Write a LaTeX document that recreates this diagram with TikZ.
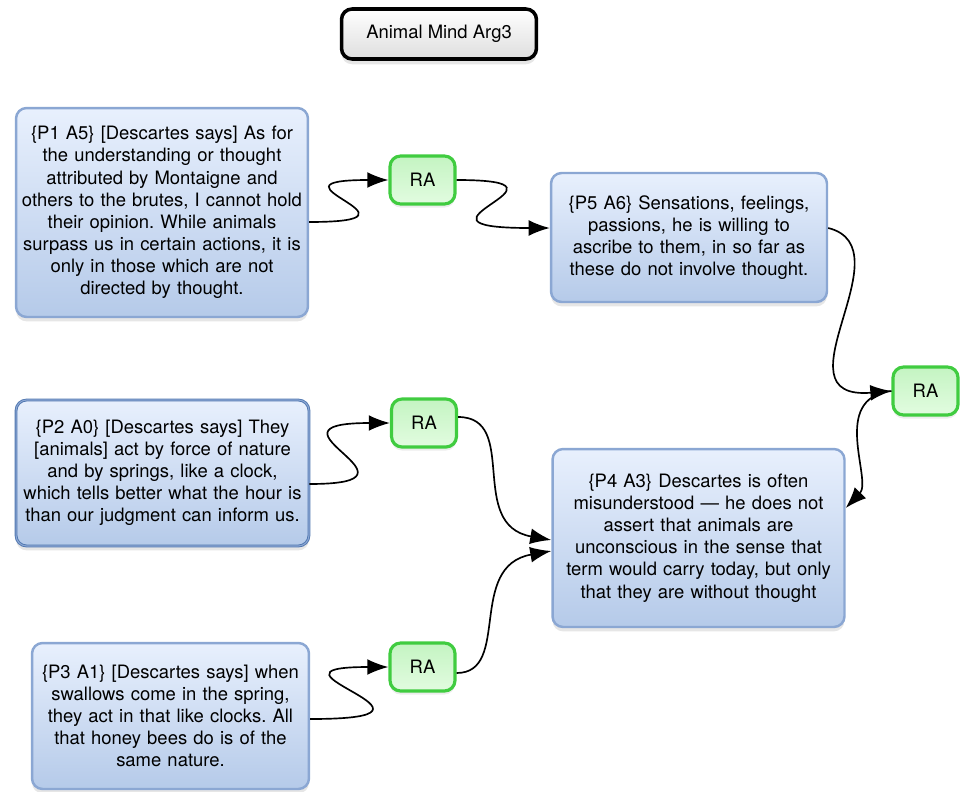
\documentclass[tikz,border=0pt]{standalone}
\usepackage{fontspec}
\setmainfont{TeX Gyre Heros}
\usetikzlibrary{arrows.meta,shadows}
\frenchspacing
\definecolor{boxline}{RGB}{139,167,211}
\definecolor{boxdark}{RGB}{79,118,176}
\definecolor{boxtop}{RGB}{232,240,253}
\definecolor{boxbot}{RGB}{181,202,233}
\definecolor{raline}{RGB}{64,204,64}
\definecolor{ratop}{RGB}{196,244,194}
\definecolor{rabot}{RGB}{226,252,224}
\definecolor{titlebot}{RGB}{222,222,222}
\tikzset{
 prem/.style={draw=boxline,line width=1.4pt,rounded corners=6pt,top color=boxtop,bottom color=boxbot,align=center,inner sep=0pt,
  drop shadow={shadow xshift=0pt,shadow yshift=-2.5pt,opacity=0.2}},
 ra/.style={draw=raline,line width=1.8pt,rounded corners=6pt,top color=ratop,bottom color=rabot,minimum width=1.3cm,minimum height=0.96cm,
  drop shadow={shadow xshift=0pt,shadow yshift=-2pt,opacity=0.15}},
 titlebox/.style={draw=black,line width=2pt,rounded corners=6pt,top color=white,bottom color=titlebot,minimum width=3.9cm,minimum height=1cm,
  drop shadow={shadow xshift=0pt,shadow yshift=-3pt,opacity=0.2}},
 link/.style={-{Latex[length=12pt,width=9pt]},line width=0.95pt}
}
\begin{document}
\begin{tikzpicture}[x=0.02cm,y=-0.02cm,font=\fontsize{10.5}{12.6}\selectfont]
 \useasboundingbox (0,0) rectangle (963,791);
 \node[titlebox] (title) at (439,34) {Animal Mind Arg3};

 \node[prem,minimum width=5.84cm,minimum height=4.18cm,text width=5.8cm] (p1) at (162,212.5) {\{P1 A5\} [Descartes says] As for\\the understanding or thought\\attributed by Montaigne and\\others to the brutes, I cannot hold\\their opinion. While animals\\surpass us in certain actions, it is\\only in those which are not\\directed by thought.};
 \node[prem,minimum width=5.52cm,minimum height=2.58cm,text width=5.5cm] (p5) at (689,237.5) {\{P5 A6\} Sensations, feelings,\\passions, he is willing to\\ascribe to them, in so far as\\these do not involve thought.};
 \node[prem,draw=boxdark,double=boxline,double distance=0.6pt,line width=0.5pt,minimum width=5.86cm,minimum height=2.92cm,text width=5.8cm] (p2) at (162.5,473) {\{P2 A0\} [Descartes says] They\\{[animals]} act by force of nature\\and by springs, like a clock,\\which tells better what the hour is\\than our judgment can inform us.};
 \node[prem,minimum width=5.84cm,minimum height=3.56cm,text width=5.8cm] (p4) at (698.5,538) {\{P4 A3\} Descartes is often\\misunderstood — he does not\\assert that animals are\\unconscious in the sense that\\term would carry today, but only\\that they are without thought};
 \node[prem,minimum width=5.54cm,minimum height=2.92cm,text width=5.5cm] (p3) at (170.5,716) {\{P3 A1\} [Descartes says] when\\swallows come in the spring,\\they act in that like clocks. All\\that honey bees do is of the\\same nature.};

 \node[ra] (ra1) at (422.5,180) {RA};
 \node[ra] (ra2) at (424,423) {RA};
 \node[ra] (ra3) at (422.5,667) {RA};
 \node[ra] (ra4) at (925.5,391) {RA};

 \draw[link] ([yshift=-0.19cm]p1.east) .. controls +(133,0) and +(-136,0) .. (ra1.west);
 \draw[link] (ra1.east) .. controls +(140,0) and +(-165,0) .. ([yshift=0.19cm]p5.west);
 \draw[link] ([yshift=0.19cm]p5.east) .. controls +(80,20) and +(-120,10) .. (ra4.west);
 \draw[link] (ra4.west) .. controls +(-62,7) and +(27,-28) .. ([yshift=0.6cm]p4.east);
 \draw[link] ([yshift=-0.22cm]p2.east) .. controls +(132,0) and +(-142,0) .. (ra2.west);
 \draw[link] ([yshift=0.12cm]ra2.east) .. controls +(62,0) and +(-85,-15) .. ([yshift=-0.04cm]p4.west);
 \draw[link] ([yshift=-0.12cm]ra3.east) .. controls +(55,0) and +(-85,15) .. ([yshift=-0.26cm]p4.west);
 \draw[link] ([yshift=-0.06cm]p3.east) .. controls +(168,0) and +(-147,0) .. (ra3.west);
\end{tikzpicture}
\end{document}
